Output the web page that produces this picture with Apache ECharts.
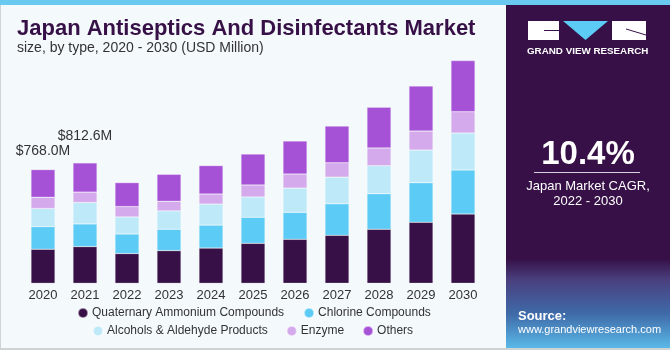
<!DOCTYPE html>
<html>
<head>
<meta charset="utf-8">
<title>Japan Antiseptics And Disinfectants Market</title>
<script src="https://cdn.jsdelivr.net/npm/echarts@6/dist/echarts.min.js"></script>
<style>
  html, body { margin: 0; padding: 0; background: #f4f9fc; }
  #chart { width: 670px; height: 350px; }
</style>
</head>
<body>
<div id="chart"></div>
<script>
// years on the x axis
var years = ['2020', '2021', '2022', '2023', '2024', '2025', '2026', '2027', '2028', '2029', '2030'];

// segment values, USD Million
var quaternary = [230, 248, 201, 221, 238, 270, 297, 324, 365, 412, 468];
var chlorine   = [153, 153, 132, 144, 155, 176, 182, 213, 240, 267, 297];
var alcohols   = [122, 145, 115, 124, 142, 137, 164, 180, 189, 221, 250];
var enzyme     = [76, 70, 70, 65, 68, 81, 95, 97, 120, 128, 144];
var others     = [187, 197, 162, 182, 192, 209, 223, 248, 275, 304, 345];

// total labels shown above the first two bars
var totalLabels = ['$768.0M', '$812.6M'];
var labelGap = [11, 20];

var seriesNames = ['Quaternary Ammonium Compounds', 'Chlorine Compounds',
  'Alcohols & Aldehyde Products', 'Enzyme', 'Others'];
var colors = ['#371047', '#5ccbf5', '#bde9f9', '#d4aaec', '#a652d6'];

var myChart = echarts.init(document.getElementById('chart'));

// top segment gets the total label for the first bars
var othersData = others.map(function (v, i) {
  if (i < totalLabels.length) {
    return {
      value: v,
      label: {
        show: true, position: 'top', distance: labelGap[i],
        formatter: totalLabels[i], color: '#333', fontSize: 14,
        fontFamily: 'Liberation Sans'
      }
    };
  }
  return v;
});

var allData = [quaternary, chlorine, alcohols, enzyme, othersData];

var series = seriesNames.map(function (name, i) {
  return {
    name: name,
    type: 'bar',
    stack: 'total',
    barWidth: 24,
    data: allData[i],
    itemStyle: { color: colors[i], borderColor: 'rgba(255,255,255,0.5)', borderWidth: 0.5 },
    emphasis: { disabled: true }
  };
});

var option = {
  backgroundColor: '#f4f9fc',
  animation: false,
  textStyle: { fontFamily: 'Liberation Sans' },
  grid: { left: 22, right: 186, top: 46.4, bottom: 66.7 },
  xAxis: {
    type: 'category',
    data: years,
    axisLine: { show: false },
    axisTick: { show: false },
    axisLabel: { color: '#333', fontSize: 13, margin: 6 }
  },
  yAxis: {
    type: 'value',
    min: 0,
    max: 1600,
    show: false,
    splitLine: { show: false }
  },
  legend: [
    {
      data: seriesNames.slice(0, 2),
      left: 72, top: 302,
      icon: 'circle', itemWidth: 10, itemHeight: 10, itemGap: 19,
      textStyle: { color: '#333', fontSize: 12, padding: [0, 0, 0, -1] }
    },
    {
      data: seriesNames.slice(2),
      left: 87, top: 320,
      icon: 'circle', itemWidth: 10, itemHeight: 10, itemGap: 18,
      textStyle: { color: '#333', fontSize: 12, padding: [0, 0, 0, -1] }
    }
  ],
  graphic: [
    // top band
    { type: 'rect', left: 0, top: 0, shape: { width: 670, height: 5 }, style: { fill: '#69c9ef' }, z: 10 },
    // thin frame
    { type: 'rect', left: 0, top: 5, shape: { width: 1, height: 345 }, style: { fill: '#cfd3d6' }, z: 10 },
    { type: 'rect', left: 0, top: 348, shape: { width: 670, height: 2 }, style: { fill: '#cfd3d6' }, z: 10 },
    // right panel
    {
      type: 'rect', left: 506, top: 5, shape: { width: 164, height: 343 }, z: 5,
      style: {
        fill: new echarts.graphic.LinearGradient(0, 0, 0, 1, [
          { offset: 0, color: '#361046' },
          { offset: 0.74, color: '#361046' },
          { offset: 0.8, color: '#4a3f7e' },
          { offset: 0.9, color: '#3f6aa8' },
          { offset: 1, color: '#5ab9e8' }
        ])
      }
    },
    // logo blocks
    { type: 'rect', left: 528, top: 21, shape: { width: 31, height: 19 }, style: { fill: '#ffffff' }, z: 11 },
    {
      type: 'polygon', z: 11,
      shape: { points: [[563, 21], [608, 21], [585.5, 40]] },
      style: { fill: '#5ccbf5' }
    },
    { type: 'rect', left: 612, top: 21, shape: { width: 34, height: 19 }, style: { fill: '#ffffff' }, z: 11 },
    { type: 'rect', left: 544, top: 30, shape: { width: 15, height: 1 }, style: { fill: '#361046' }, z: 12 },
    {
      type: 'polyline', z: 12,
      shape: { points: [[626, 29], [646, 35]] },
      style: { stroke: '#361046', lineWidth: 1 }
    },
    {
      type: 'text', left: 527, top: 46, z: 11,
      style: { text: 'GRAND VIEW RESEARCH', fill: '#ffffff', font: 'bold 9.8px "Liberation Sans"' }
    },
    // CAGR
    {
      type: 'text', z: 11, x: 588, y: 155,
      style: { text: '10.4%', fill: '#ffffff', font: 'bold 33px "Liberation Sans"', align: 'center', verticalAlign: 'middle' }
    },
    { type: 'rect', left: 534, top: 172, shape: { width: 106, height: 1 }, style: { fill: '#d8d0e0' }, z: 11 },
    {
      type: 'text', z: 11, x: 588, y: 186,
      style: { text: 'Japan Market CAGR,', fill: '#ffffff', font: '13px "Liberation Sans"', align: 'center', verticalAlign: 'middle' }
    },
    {
      type: 'text', z: 11, x: 588, y: 201,
      style: { text: '2022 - 2030', fill: '#ffffff', font: '13px "Liberation Sans"', align: 'center', verticalAlign: 'middle' }
    },
    // source
    {
      type: 'text', z: 11, x: 518, y: 316,
      style: { text: 'Source:', fill: '#ffffff', font: 'bold 13px "Liberation Sans"', verticalAlign: 'middle' }
    },
    {
      type: 'text', z: 11, x: 518, y: 330,
      style: { text: 'www.grandviewresearch.com', fill: '#ffffff', font: '11px "Liberation Sans"', verticalAlign: 'middle' }
    },
    // title
    {
      type: 'text', z: 11, left: 17, top: 18,
      style: { text: 'Japan Antiseptics And Disinfectants Market', fill: '#361046', font: 'bold 22px "Liberation Sans"' }
    },
    {
      type: 'text', z: 11, left: 17, top: 41,
      style: { text: 'size, by type, 2020 - 2030 (USD Million)', fill: '#333333', font: '14px "Liberation Sans"' }
    }
  ],
  series: series
};

myChart.setOption(option);
window.addEventListener('resize', myChart.resize);
</script>
</body>
</html>
